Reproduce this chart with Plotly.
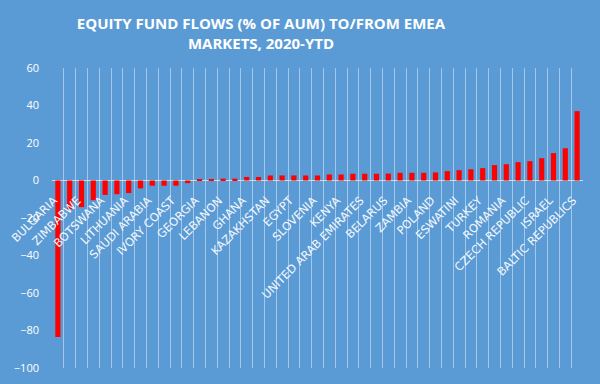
import plotly.graph_objects as go

# Flows (% of AUM), sorted ascending; 45 markets, Excel shows every other label
flows = [-83.5, -15.2, -14.2, -10.5, -7.7, -7.3, -6.7, -4.2, -2.8, -2.8,
         -2.8, -1.4, 0.3, 0.5, 1.0, 1.0, 1.9, 1.9, 2.7, 2.7,
         2.7, 2.7, 2.7, 3.2, 3.2, 3.6, 3.6, 3.6, 3.7, 4.1,
         4.1, 4.1, 4.3, 5.0, 5.5, 6.0, 6.6, 8.2, 8.7, 9.8,
         10.3, 11.9, 14.6, 17.2, 37.0]
bar_index = list(range(len(flows)))

shown_labels = ["BULGARIA", "ZIMBABWE", "BOTSWANA", "LITHUANIA", "SAUDI ARABIA",
                "IVORY COAST", "GEORGIA", "LEBANON", "GHANA", "KAZAKHSTAN",
                "EGYPT", "SLOVENIA", "KENYA", "UNITED ARAB EMIRATES", "BELARUS",
                "ZAMBIA", "POLAND", "ESWATINI", "TURKEY", "ROMANIA",
                "CZECH REPUBLIC", "ISRAEL", "BALTIC REPUBLICS"]
shown_positions = bar_index[::2]

y_ticks = [-100, -80, -60, -40, -20, 0, 20, 40, 60]

BG = "#5B9BD5"

fig = go.Figure(go.Bar(x=bar_index, y=flows, marker_color="#FF0000",
                       marker_line_width=0, width=0.44))

fig.update_layout(
    width=600, height=384,
    paper_bgcolor=BG, plot_bgcolor=BG,
    margin=dict(l=52, r=17, t=68, b=16),
    showlegend=False,
    title=dict(text="EQUITY FUND FLOWS (% OF AUM) TO/FROM EMEA<br>MARKETS, 2020-YTD",
               x=261/600, xref="container", xanchor="center",
               y=1-29/384, yref="container", yanchor="middle",
               font=dict(family="Open Sans", size=15, color="white", weight="bold")),
)

fig.update_xaxes(
    range=[-0.5, len(flows) - 0.5], automargin=False,
    tickmode="array", tickvals=shown_positions, ticktext=shown_labels,
    tickangle=-45, tickfont=dict(family="DejaVu Sans", size=11.5, color="#F4F8FC"),
    ticklabelstandoff=10, ticklabelshift=-4,
    showgrid=False, zeroline=False, showline=False, ticks="",
    anchor="free", position=100/160,
    minor=dict(tickmode="linear", tick0=-0.5, dtick=1, showgrid=True,
               gridcolor="rgba(190,215,240,0.75)", gridwidth=1, ticks=""),
)

fig.update_yaxes(
    range=[-100, 60], tickvals=y_ticks, automargin=False,
    tickfont=dict(family="Open Sans", size=11, color="white"),
    showgrid=False, zeroline=True, zerolinecolor="#D9D9D9", zerolinewidth=1,
    showline=False, ticks="", ticklabelstandoff=12,
)

fig.write_html("out.html", config={"displayModeBar": False},
               post_script="document.body.style.margin='0';document.body.style.overflow='hidden';")
